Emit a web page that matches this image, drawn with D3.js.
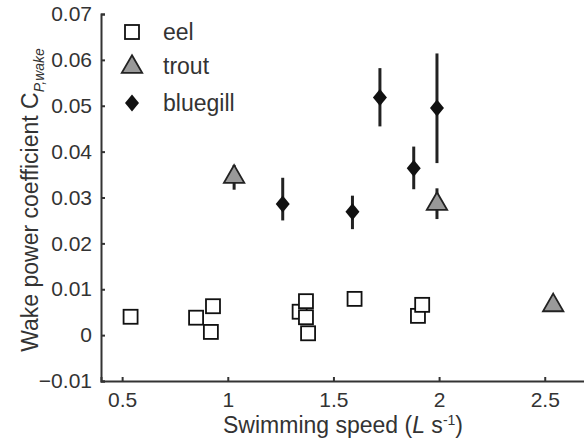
<!DOCTYPE html>
<html>
<head>
<meta charset="utf-8">
<script src="https://cdn.jsdelivr.net/npm/d3@7"></script>
<style>
  body { margin: 0; background: #fff; }
  svg text { font-family: "Liberation Sans", Arial, sans-serif; fill: #333; }
</style>
</head>
<body>
<div id="chart"></div>
<script>
// eel: speed (L/s), coefficient
const eelSpeed = [0.54, 0.85, 0.93, 0.92, 1.34, 1.37, 1.37, 1.38, 1.60, 1.90, 1.92];
const eelValue = [0.0040, 0.0038, 0.0063, 0.0007, 0.0051, 0.0074, 0.0039, 0.0004, 0.0079, 0.0042, 0.0066];
const eelErr   = [0.0012, 0, 0, 0, 0, 0, 0, 0, 0, 0, 0];

// trout
const troutSpeed = [1.03, 1.99, 2.54];
const troutValue = [0.0347, 0.0288, 0.0067];
const troutLow   = [0.0317, 0.0253, 0.0060];
const troutHigh  = [0.0371, 0.0320, 0.0074];

// bluegill
const blueSpeed = [1.26, 1.59, 1.72, 1.88, 1.99];
const blueValue = [0.0286, 0.0269, 0.0518, 0.0364, 0.0495];
const blueLow   = [0.0250, 0.0231, 0.0455, 0.0318, 0.0375];
const blueHigh  = [0.0343, 0.0304, 0.0582, 0.0411, 0.0614];

const xTicks = [0.5, 1, 1.5, 2, 2.5];
const yTicks = [-0.01, 0, 0.01, 0.02, 0.03, 0.04, 0.05, 0.06, 0.07];
const legendNames = ['eel', 'trout', 'bluegill'];

const width = 584, height = 443;
const margin = {left: 101, top: 14, right: 0, bottom: 62};

const svg = d3.select('#chart').append('svg')
    .attr('width', width)
    .attr('height', height);

const x = d3.scaleLinear().domain([0.4, 2.7]).range([margin.left, 587]);
const y = d3.scaleLinear().domain([-0.01, 0.07]).range([height - margin.bottom, margin.top]);

const axisColor = '#333';

// axes with inward ticks
const gx = svg.append('g')
    .attr('transform', `translate(0, ${y(-0.01)})`)
    .call(d3.axisBottom(x).tickValues(xTicks).tickSize(-4).tickPadding(11)
        .tickFormat(d3.format('')));
const gy = svg.append('g')
    .attr('transform', `translate(${x(0.4)}, 0)`)
    .call(d3.axisLeft(y).tickValues(yTicks).tickSize(-4).tickPadding(9)
        .tickFormat(d => d === 0 ? '0' : d3.format('.2f')(d)));

[gx, gy].forEach(function(g){
    g.select('.domain').attr('stroke', axisColor).attr('stroke-width', 2);
    g.selectAll('.tick line').attr('stroke', axisColor).attr('stroke-width', 2);
    g.selectAll('.tick text').attr('fill', '#333').style('font-size', '21px');
});
gx.selectAll('.tick text').attr('dy', '0.71em');

// axis titles
svg.append('text')
    .attr('x', 343)
    .attr('y', 433)
    .attr('text-anchor', 'middle')
    .style('font-size', '23px')
    .html('Swimming speed (<tspan font-style="italic">L</tspan> s<tspan dy="-8" font-size="14px">-1</tspan><tspan dy="8">)</tspan>');

svg.append('text')
    .attr('transform', 'translate(38, 200) rotate(-90)')
    .attr('text-anchor', 'middle')
    .style('font-size', '23px')
    .html('Wake power coefficient C<tspan dy="6" font-size="14px" font-style="italic">P,wake</tspan>');

const errColor = '#222';
function errBars(speed, low, high) {
    svg.append('g').selectAll('line')
        .data(speed)
        .join('line')
        .attr('x1', d => x(d)).attr('x2', d => x(d))
        .attr('y1', (d, i) => y(low[i])).attr('y2', (d, i) => y(high[i]))
        .attr('stroke', errColor)
        .attr('stroke-width', 3);
}

// eel
errBars(eelSpeed, eelValue.map((v, i) => v - eelErr[i]), eelValue.map((v, i) => v + eelErr[i]));
const sq = 14;
svg.append('g').selectAll('rect')
    .data(eelSpeed)
    .join('rect')
    .attr('x', d => x(d) - sq / 2)
    .attr('y', (d, i) => y(eelValue[i]) - sq / 2)
    .attr('width', sq).attr('height', sq)
    .attr('fill', '#fff')
    .attr('stroke', '#111')
    .attr('stroke-width', 1.8);

// trout
errBars(troutSpeed, troutLow, troutHigh);
const tri = d3.symbol().type(d3.symbolTriangle).size(180);
svg.append('g').selectAll('path')
    .data(troutSpeed)
    .join('path')
    .attr('d', tri)
    .attr('transform', (d, i) => `translate(${x(d)}, ${y(troutValue[i]) + 1})`)
    .attr('fill', '#999')
    .attr('stroke', '#222')
    .attr('stroke-width', 1.8);

// bluegill
errBars(blueSpeed, blueLow, blueHigh);
const diamond = 'M0,-8.5L7,0L0,8.5L-7,0Z';
svg.append('g').selectAll('path')
    .data(blueSpeed)
    .join('path')
    .attr('d', diamond)
    .attr('transform', (d, i) => `translate(${x(d)}, ${y(blueValue[i])})`)
    .attr('fill', '#111');

// legend
const legendY = [32, 66, 103];
const lg = svg.append('g');
lg.append('rect')
    .attr('x', 132 - sq / 2).attr('y', legendY[0] - sq / 2)
    .attr('width', sq).attr('height', sq)
    .attr('fill', '#fff').attr('stroke', '#111').attr('stroke-width', 1.8);
lg.append('path')
    .attr('d', tri)
    .attr('transform', `translate(132, ${legendY[1] + 1})`)
    .attr('fill', '#999').attr('stroke', '#222').attr('stroke-width', 1.8);
lg.append('path')
    .attr('d', diamond)
    .attr('transform', `translate(132, ${legendY[2]})`)
    .attr('fill', '#111');
lg.selectAll('text')
    .data(legendNames)
    .join('text')
    .attr('x', 163)
    .attr('y', (d, i) => legendY[i])
    .attr('dy', '0.35em')
    .style('font-size', '23px')
    .text(d => d);
</script>
</body>
</html>
